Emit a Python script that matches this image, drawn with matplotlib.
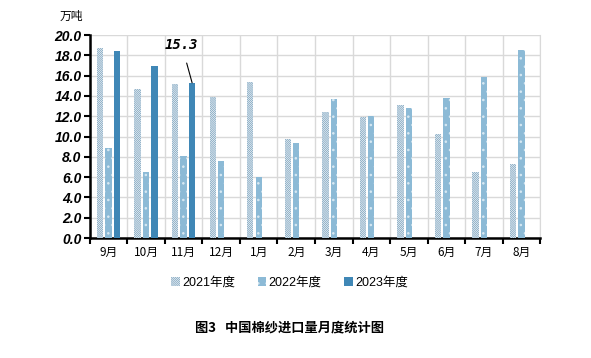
import matplotlib.pyplot as plt
import numpy as np

plt.rcParams["font.family"] = ["Liberation Sans", "Noto Sans CJK SC", "DejaVu Sans"]
plt.rcParams["hatch.linewidth"] = 0.6

months = ["9月", "10月", "11月", "12月", "1月", "2月", "3月", "4月", "5月", "6月", "7月", "8月"]
y2021 = [18.7, 14.7, 15.2, 13.9, 15.4, 9.8, 12.4, 11.9, 13.1, 10.3, 6.5, 7.3]
y2022 = [8.9, 6.5, 8.1, 7.6, 6.0, 9.4, 13.7, 12.0, 12.8, 13.8, 15.9, 18.5]
y2023 = [18.4, 17.0, 15.3]
labels = ["2021年度", "2022年度", "2023年度"]

c21 = "#7fa5c0"
c22 = "#8cbad6"
c23 = "#3f87b6"

fig = plt.figure(figsize=(5.91, 3.58), dpi=100)
ax = fig.add_axes([0.152, 0.335, 0.762, 0.567])

x = np.arange(len(months))
w = 0.17
off = 0.225
b1 = ax.bar(x - off, y2021, width=w, facecolor="white", edgecolor=c21,
            hatch="\\" * 16, linewidth=0, label=labels[0], zorder=3)
b2 = ax.bar(x, y2022, width=w, facecolor=c22, edgecolor="#d8e9f3",
            hatch="..", linewidth=0, label=labels[1], zorder=3)
b3 = ax.bar(x[:len(y2023)] + off, y2023, width=w, color=c23,
            linewidth=0, label=labels[2], zorder=3)

ax.set_xlim(-0.5, len(months) - 0.5)
ax.set_ylim(0, 20)
ax.set_yticks(np.arange(0, 20.1, 2))
ax.set_yticklabels([f"{v:.1f}" for v in np.arange(0, 20.1, 2)],
                   fontsize=10, fontweight="bold", style="italic")
ax.set_xticks(x)
ax.set_xticklabels(months, fontsize=8.5, family=["Noto Sans CJK SC"])
ax.set_xticks(np.arange(-0.5, len(months), 1), minor=True)
ax.tick_params(axis="x", which="major", length=0, pad=6)
ax.tick_params(axis="x", which="minor", length=4, width=1.5, direction="out")
ax.tick_params(axis="y", length=4, width=1.5, direction="out", pad=2)

ax.grid(axis="y", color="#d9d9d9", linewidth=1, zorder=0)
ax.grid(axis="x", which="minor", color="#d9d9d9", linewidth=1, zorder=0)
ax.spines["top"].set_visible(False)
ax.spines["right"].set_color("#d9d9d9")
ax.spines["left"].set_linewidth(1.8)
ax.spines["bottom"].set_linewidth(1.8)

ax.annotate("15.3", xy=(2 + off, y2023[2]), xytext=(2 - 0.05, 19.0),
            fontsize=10, fontweight="bold", style="italic", family="DejaVu Sans Mono",
            ha="center", va="center",
            arrowprops=dict(arrowstyle="-", color="black", lw=0.8, shrinkA=6, shrinkB=0))

fig.text(0.10, 0.955, "万吨", fontsize=8.5, style="italic",
         family=["Noto Sans CJK SC"], ha="left", va="center")

fig.legend(handles=[b1, b2, b3], labels=labels, loc="center",
           bbox_to_anchor=(0.49, 0.21), ncol=3, frameon=False,
           handlelength=0.7, handleheight=0.7,
           handletextpad=0.2, columnspacing=1.8,
           prop={"family": ["Liberation Sans", "Noto Sans CJK SC"], "size": 9})

fig.text(0.49, 0.085, "图3   中国棉纱进口量月度统计图", fontsize=9.5, fontweight="bold",
         family=["Noto Sans CJK SC"], ha="center", va="center")

fig.savefig("out.png", dpi=100)
